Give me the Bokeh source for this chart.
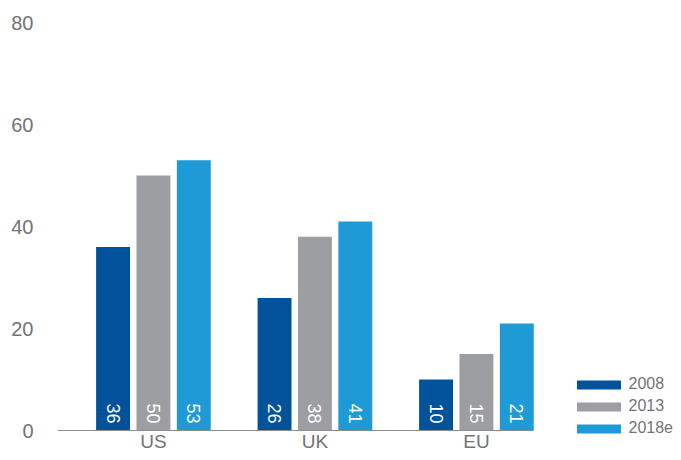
import math
from bokeh.plotting import figure
from bokeh.models import ColumnDataSource, Range1d, FixedTicker, Legend, LegendItem
from bokeh.transform import dodge
from bokeh.core.properties import value
from bokeh.embed import file_html
from bokeh.resources import INLINE

# ---- data ----
categories = ["US", "UK", "EU"]
years = ["2008", "2013", "2018e"]
v2008 = [36, 26, 10]
v2013 = [50, 38, 15]
v2018e = [53, 41, 21]
y_ticks = [0, 20, 40, 60, 80]

# ---- style / layout ----
FONT = "Liberation Sans"
TEXT_GREY = "#737376"
colors = ["#00529b", "#9d9ea2", "#1e9ad6"]
offsets = [-0.25, 0.0, 0.25]
BAR_W = 0.21

W, H = 673, 452
LEFT, TOP = 57, 22
PLOT_PX = 408             # pixels from value 0 to value 80
PX_PER_X = 161.5          # pixels per category step
PX_PER_Y = PLOT_PX / 80.0
BELOW_ZERO_PX = H - TOP - PLOT_PX
X_START = -0.594
X_AXIS_END = 2.353
X_END = X_START + (W - LEFT) / PX_PER_X
Y_START = -BELOW_ZERO_PX / PX_PER_Y

x = list(range(len(categories)))
series = [v2008, v2013, v2018e]
data = dict(x=x, cat=categories)
for yr, vals in zip(years, series):
    data["v" + yr] = vals
    data["l" + yr] = [str(v) for v in vals]
src = ColumnDataSource(data)

p = figure(width=W, height=H,
           x_range=Range1d(X_START, X_END), y_range=Range1d(Y_START, 80),
           output_backend="svg", toolbar_location=None,
           min_border_left=LEFT, min_border_right=0,
           min_border_top=TOP, min_border_bottom=0)
p.grid.visible = False
p.outline_line_color = None
p.background_fill_color = "white"
p.border_fill_color = "white"

renderers = []
for yr, col, off in zip(years, colors, offsets):
    r = p.vbar(x=dodge("x", off, range=p.x_range), top="v" + yr, width=BAR_W,
               source=src, fill_color=col, line_color=None)
    renderers.append(r)
    p.text(x=dodge("x", off, range=p.x_range), y=0, text="l" + yr, source=src,
           angle=-math.pi / 2, text_align="right", text_baseline="middle",
           y_offset=-7, text_color="white", text_font=value(FONT),
           text_font_size="18px")

# category labels under the baseline
p.text(x="x", y=0, text="cat", source=src, text_align="center",
       text_baseline="bottom", y_offset=21, text_color=TEXT_GREY,
       text_font=value(FONT), text_font_size="19px")

# y axis
p.yaxis.ticker = FixedTicker(ticks=y_ticks)
p.yaxis.axis_line_color = None
p.yaxis.major_tick_line_color = None
p.yaxis.minor_tick_line_color = None
p.yaxis.major_tick_out = 0
p.yaxis.major_tick_in = 0
p.yaxis.major_label_standoff = 24
p.yaxis.major_label_text_font = FONT
p.yaxis.major_label_text_font_size = "20px"
p.yaxis.major_label_text_color = TEXT_GREY

# x axis = baseline at zero
p.xaxis.fixed_location = 0
p.xaxis.bounds = (X_START, X_AXIS_END)
p.xaxis.ticker = FixedTicker(ticks=[])
p.xaxis.axis_line_color = "#8c8c8c"
p.xaxis.axis_line_width = 1.2
p.xaxis.major_tick_line_color = None
p.xaxis.minor_tick_line_color = None
p.xaxis.major_tick_out = 0
p.xaxis.major_label_standoff = 0
p.xaxis.major_label_text_font_size = "0px"

legend = Legend(items=[LegendItem(label=yr, renderers=[r]) for yr, r in zip(years, renderers)],
                location=(513.5, 14), orientation="vertical",
                glyph_width=55, glyph_height=11, label_standoff=3, spacing=2,
                padding=0, margin=0, border_line_color=None,
                background_fill_alpha=0, label_height=20,
                label_text_font=FONT, label_text_font_size="16px",
                label_text_color=TEXT_GREY)
p.add_layout(legend)

open("out.html", "w").write(file_html(p, INLINE))
